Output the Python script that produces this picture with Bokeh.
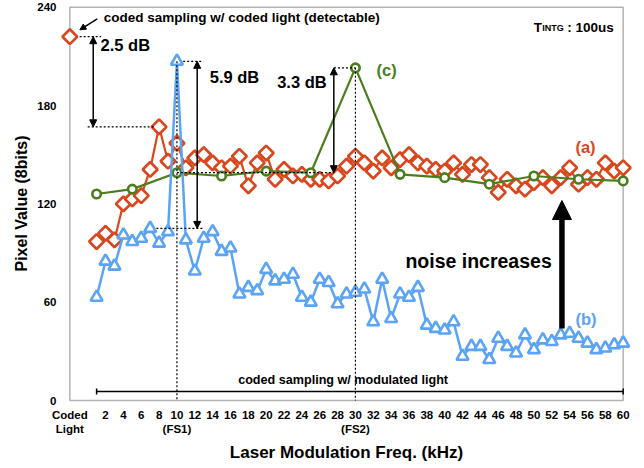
import math
from bokeh.plotting import figure
from bokeh.models import (Range1d, FixedTicker, Label, Arrow, NormalHead, TeeHead,
                          BoxAnnotation)
from bokeh.embed import file_html
from bokeh.resources import INLINE

FONT = "Liberation Sans"
RED = "#D8471D"
BLUE = "#5AA3F5"
GREEN = "#4A7D1D"

# ---------------- data ----------------
freq = list(range(1, 61))
red_a = [97, 102, 98, 120, 123, 125, 141, 167, 146, 157,
         142, 148, 150, 145, 142, 143, 149, 131, 145, 151,
         135, 141, 137, 138, 135, 135, 134, 137, 143, 149,
         145, 140, 148, 142, 147, 150, 145, 143, 141, 140,
         145, 138, 144, 144, 136, 127, 135, 131, 129, 133,
         136, 131, 136, 142, 132, 136, 135, 145, 140, 142]
blue_b = [63, 85, 82, 101, 97, 99, 105, 96, 103, 207,
          98, 79, 99, 103, 91, 93, 65, 69, 67, 80,
          73, 74, 77, 63, 60, 74, 72, 59, 65, 66,
          68, 48, 74, 50, 65, 63, 69, 46, 44, 43,
          48, 27, 33, 33, 25, 38, 33, 29, 40, 31,
          37, 36, 40, 41, 38, 35, 31, 32, 34, 35]
green_freq = [1, 5, 10, 15, 20, 25, 30, 35, 40, 45, 50, 55, 60]
green_c = [126, 129, 139, 137, 140, 139, 203, 138, 136, 132, 137, 135, 134]
coded_light_x = [-2]
coded_light_val = [222]

x_ticks = [-2] + list(range(2, 61, 2))
x_tick_overrides = {-2: "Coded\nLight", 10: "10\n(FS1)", 30: "30\n(FS2)"}
y_ticks = [0, 60, 120, 180, 240]

# derived reference levels for the dB annotations
red_peak = max(red_a)
blue_peak = max(blue_b)
blue_base = sorted(blue_b)[-2]
green_peak = max(green_c)
green_base = green_c[green_freq.index(10)]
coded_peak = coded_light_val[0]

# ---------------- figure ----------------
p = figure(width=644, height=468, output_backend="svg", toolbar_location=None,
           x_range=Range1d(-3.27, 61.27), y_range=Range1d(-1.22, 241.65),
           min_border_left=58, min_border_right=10, min_border_top=4,
           min_border_bottom=66)
p.outline_line_color = None
p.grid.visible = False
p.background_fill_color = "white"

p.add_layout(BoxAnnotation(left=-2, right=60, bottom=0, top=240, fill_color=None,
                           fill_alpha=0, line_color="black", line_width=1.5,
                           level="underlay"))

# axes
p.xaxis.ticker = FixedTicker(ticks=x_ticks)
p.xaxis.major_label_overrides = x_tick_overrides
p.yaxis.ticker = FixedTicker(ticks=y_ticks)
for ax in (p.xaxis, p.yaxis):
    ax.axis_line_color = None
    ax.major_tick_line_color = None
    ax.minor_tick_line_color = None
    ax.major_tick_out = 0
    ax.major_tick_in = 0
    ax.minor_tick_out = 0
    ax.minor_tick_in = 0
    ax.major_label_text_font = FONT
    ax.major_label_text_font_style = "bold"
    ax.major_label_text_font_size = "11.5px"
    ax.major_label_text_color = "black"
    ax.axis_label_text_font = FONT
    ax.axis_label_text_font_style = "bold"
    ax.axis_label_text_color = "black"
p.xaxis.major_label_standoff = 6
p.yaxis.major_label_standoff = 2
p.xaxis.axis_label = "Laser Modulation Freq. (kHz)"
p.yaxis.axis_label = "Pixel Value (8bits)"
p.xaxis.axis_label_text_font_size = "17px"
p.yaxis.axis_label_text_font_size = "16px"
p.xaxis.axis_label_standoff = 5
p.yaxis.axis_label_standoff = 4

# ---------------- series ----------------
p.line(freq, red_a, line_color=RED, line_width=2.2)
p.scatter(freq, red_a, marker="square", angle=math.pi / 4, size=10.5,
          line_color=RED, fill_color="white", line_width=2.7)
p.scatter(coded_light_x, coded_light_val, marker="square", angle=math.pi / 4,
          size=10.5, line_color=RED, fill_color="white", line_width=2.7)

p.line(green_freq, green_c, line_color=GREEN, line_width=2.2)
p.scatter(green_freq, green_c, marker="circle", size=8.5, line_color=GREEN,
          fill_color="white", line_width=2.6)

p.line(freq, blue_b, line_color=BLUE, line_width=2.5)
p.scatter(freq, blue_b, marker="triangle", size=12, line_color=BLUE,
          fill_color="white", line_width=2.6)

# ---------------- dotted guides ----------------
p.segment(x0=[10, 30, -0.9, 0.0, 10.7, 7.7, 27.6, 10],
          y0=[blue_peak, green_peak, coded_peak, red_peak, blue_peak, blue_base,
              green_peak, green_base],
          x1=[10, 30, 1.5, 7.6, 12.9, 13.0, 30, 27.6],
          y1=[0, 0, coded_peak, red_peak, blue_peak, blue_base, green_peak,
              green_base],
          line_color="black", line_width=1.2, line_dash="2 2")


def head(size=7):
    return NormalHead(size=size, fill_color="black", line_color="black", line_width=1)


# dB arrows
for xa, y_top, y_bot in [(0.62, coded_peak, red_peak), (12.27, blue_peak, blue_base),
                         (27.58, green_peak, green_base)]:
    p.add_layout(Arrow(x_start=xa, y_start=y_bot, x_end=xa, y_end=y_top,
                       start=head(), end=head(), line_color="black", line_width=1.5))

# pointer to coded light
p.add_layout(Arrow(x_start=1.07, y_start=232.9, x_end=-0.88, y_end=226.2,
                   end=head(6), line_color="black", line_width=1.5))

# noise increases arrow
p.add_layout(Arrow(x_start=53.14, y_start=44, x_end=53.14, y_end=122,
                   end=NormalHead(size=19, fill_color="black", line_color="black",
                                  line_width=1),
                   line_color="black", line_width=5.5))

# modulated-light span
p.add_layout(Arrow(x_start=1, y_start=5.5, x_end=60, y_end=5.5,
                   start=TeeHead(size=6, line_width=1.5, line_color="black"),
                   end=TeeHead(size=6, line_width=1.5, line_color="black"),
                   line_color="black", line_width=1.3))


def lab(x, y, text, size, color="black", align="left", baseline="middle", xo=0):
    p.add_layout(Label(x=x, y=y, text=text, text_font=FONT, text_font_style="bold",
                       text_font_size=size, text_color=color, text_align=align,
                       text_baseline=baseline, x_offset=xo))


lab(1.8, 233.7, "coded sampling w/ coded light (detectable)", "13.5px")
lab(1.44, 217.2, "2.5 dB", "16.5px")
lab(13.68, 197.3, "5.9 dB", "16.5px")
lab(21.23, 194.6, "3.3 dB", "16.5px")
lab(32.36, 201.9, "(c)", "16.5px", GREEN)
lab(54.65, 154.6, "(a)", "16.5px", RED)
lab(54.65, 49.8, "(b)", "16.5px", BLUE)
lab(35.6, 85.4, "noise increases", "19.5px")
lab(28.62, 12.8, "coded sampling w/ modulated light", "12.6px", align="center")

# T_INTG : 100us
lab(49.98, 227.5, "T", "13.5px", baseline="alphabetic")
lab(49.98, 227.5, "INTG", "9px", baseline="alphabetic", xo=8.4)
lab(49.98, 227.5, ": 100us", "13.5px", baseline="alphabetic", xo=33.5)

html = file_html(p, INLINE)
open("out.html", "w").write(html)
